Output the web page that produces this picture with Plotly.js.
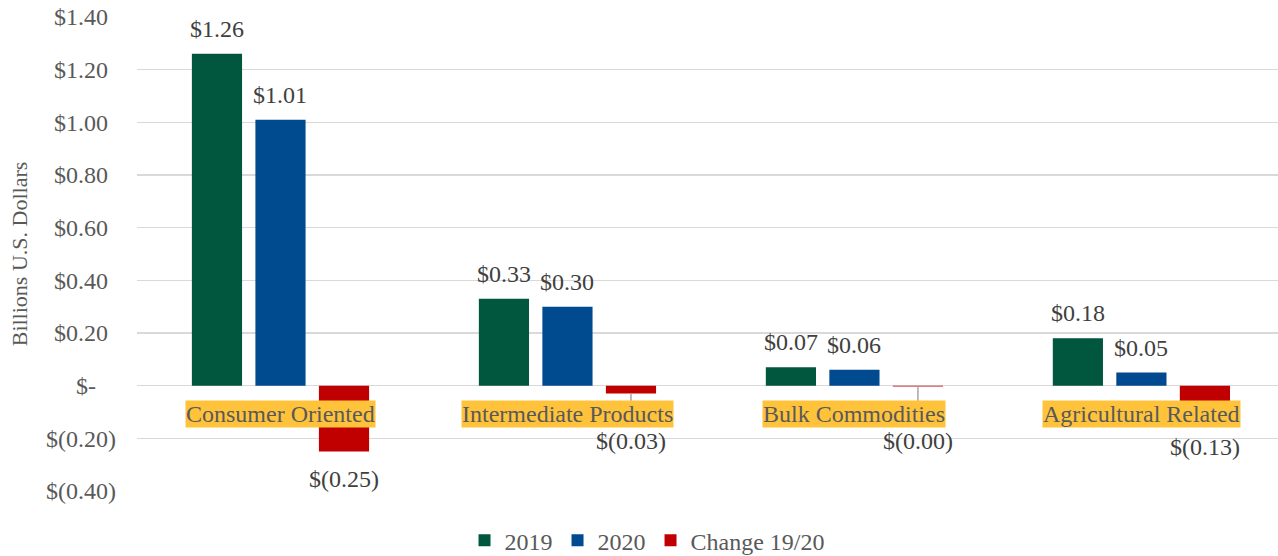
<!DOCTYPE html>
<html>
<head>
<meta charset="utf-8">
<script src="https://cdn.plot.ly/plotly-3.0.1.min.js"></script>
<style>html,body{margin:0;padding:0;background:#fff;}#chart{width:1278px;height:556px;}</style>
</head>
<body>
<div id="chart"></div>
<script>
const categories = ["Consumer Oriented", "Intermediate Products", "Bulk Commodities", "Agricultural Related"];
const seriesNames = ["2019", "2020", "Change 19/20"];
const values2019 = [1.26, 0.33, 0.07, 0.18];
const values2020 = [1.01, 0.30, 0.06, 0.05];
const valuesChange = [-0.25, -0.03, -0.003, -0.13];
const yTickVals = [-0.4, -0.2, 0, 0.2, 0.4, 0.6, 0.8, 1.0, 1.2, 1.4];

const FONT = "Liberation Serif";
const FS = 24;
const colors = ["#00573D", "#004A8F", "#C00000"];
const BARGAP = 0.336, BARGROUPGAP = 0.21;
const slot = (1 - BARGAP) / 3;
const hidden = "<span style='color:rgba(0,0,0,0)'>)</span>";

function fmt(v) {
  const a = Math.abs(v).toFixed(2);
  return v < 0 ? "$(" + a + ")" : "$" + a;
}
function tickFmt(v) {
  if (Math.abs(v) < 1e-9) return "$-<span style='color:rgba(0,0,0,0)'>0)</span>";
  return v < 0 ? "$(" + Math.abs(v).toFixed(2) + ")" : "$" + v.toFixed(2) + hidden;
}

const allSeries = [values2019, values2020, valuesChange];
const traces = allSeries.map((vals, i) => ({
  type: "bar",
  name: seriesNames[i],
  x: categories,
  y: vals,
  marker: {color: colors[i]},
  hoverinfo: "skip"
}));

const annotations = [];
const shapes = [];
allSeries.forEach((vals, s) => {
  vals.forEach((v, c) => {
    const xp = c + (s - 1) * slot;
    if (v >= 0) {
      annotations.push({x: xp, y: v, xref: "x", yref: "y", text: fmt(v), showarrow: false,
        yanchor: "bottom", yshift: 10, font: {family: FONT, size: FS, color: "#404040"}});
    } else {
      const labelTop = Math.min(v - 0.046, -0.152);
      annotations.push({x: xp, y: labelTop, xref: "x", yref: "y", text: fmt(v), showarrow: false,
        yanchor: "top", font: {family: FONT, size: FS, color: "#404040"}});
      if (v - 0.046 > -0.152) {
        shapes.push({type: "line", xref: "x", yref: "y", x0: xp, x1: xp, y0: v, y1: -0.1,
          line: {color: "#A6A6A6", width: 1.5}});
      }
    }
  });
});
categories.forEach((cat, c) => {
  annotations.push({x: c, y: 0, xref: "x", yref: "y", text: cat, showarrow: false,
    yanchor: "top", yshift: -14, bgcolor: "#FFC33B", borderpad: 0,
    font: {family: FONT, size: FS, color: "#595959"}});
});

const layout = {
  width: 1278, height: 556,
  margin: {l: 137, r: 0, t: 17, b: 65, autoexpand: false},
  paper_bgcolor: "#ffffff", plot_bgcolor: "#ffffff",
  font: {family: FONT, size: FS, color: "#595959"},
  barmode: "group", bargap: BARGAP, bargroupgap: BARGROUPGAP,
  xaxis: {type: "category", range: [-0.5, 3.476], showticklabels: false, showgrid: false,
    zeroline: false, showline: false, ticks: ""},
  yaxis: {range: [-0.4, 1.4], tickvals: yTickVals, ticktext: yTickVals.map(tickFmt),
    showgrid: true, gridcolor: "#D9D9D9", gridwidth: 1.5, zeroline: true, zerolinecolor: "#D9D9D9",
    zerolinewidth: 1.5, showline: false, ticks: "", ticklabelstandoff: 20,
    tickfont: {family: FONT, size: FS, color: "#595959"},
    title: {text: "Billions U.S. Dollars", standoff: 12, font: {family: FONT, size: 22, color: "#595959"}}},
  showlegend: true,
  legend: {orientation: "h", x: 0.447, xanchor: "center", y: -0.105, yanchor: "middle",
    font: {family: FONT, size: FS, color: "#595959"}, traceorder: "normal"},
  annotations: annotations,
  shapes: shapes
};

Plotly.newPlot("chart", traces, layout, {displayModeBar: false, staticPlot: true});
</script>
</body>
</html>
